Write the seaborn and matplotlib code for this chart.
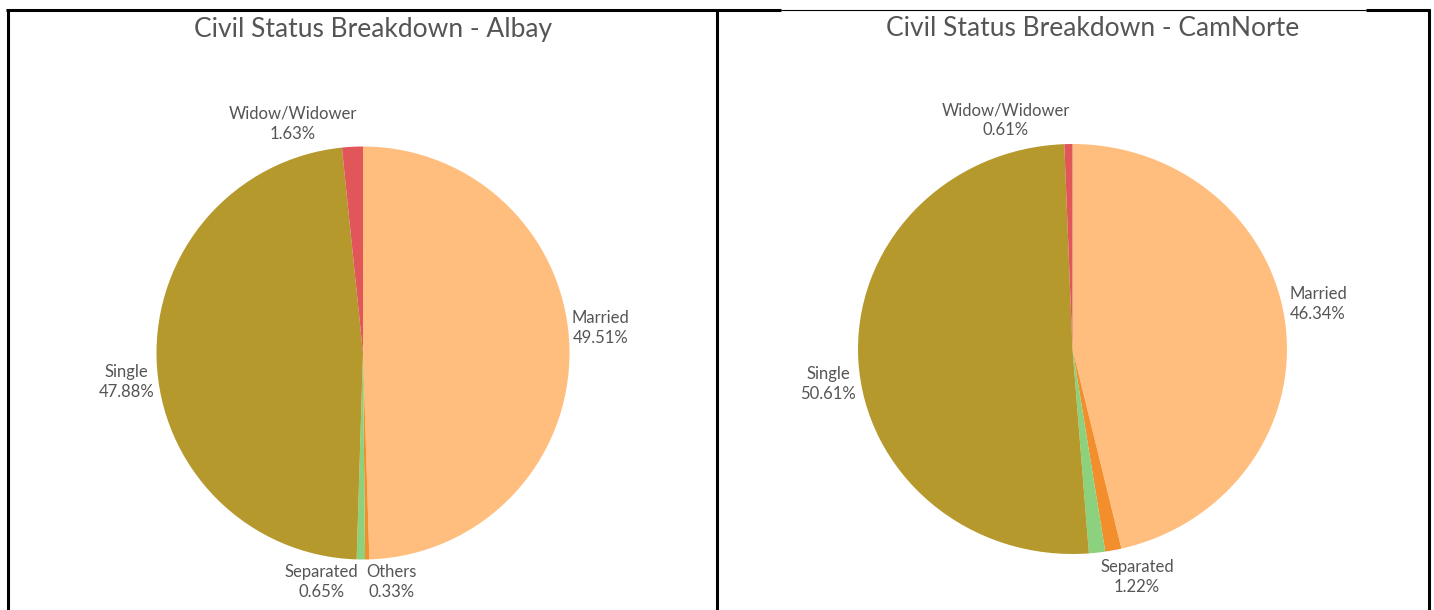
import matplotlib
matplotlib.use("Agg")
import matplotlib.pyplot as plt
import seaborn as sns
from matplotlib.lines import Line2D

sns.set_theme(style="white")
plt.rcParams['font.family'] = ['Lato', 'DejaVu Sans']

# ---- data ----
categories = ["Married", "Others", "Separated", "Single", "Widow/Widower"]
albay_values = [49.51, 0.33, 0.65, 47.88, 1.63]
camnorte_values = [46.34, 1.22, 1.22, 50.61, 0.61]
albay_labels = ["Married", "Others", "Separated", "Single", "Widow/Widower"]
camnorte_labels = ["Married", None, "Separated", "Single", "Widow/Widower"]
titles = ["Civil Status Breakdown - Albay", "Civil Status Breakdown - CamNorte"]

palette = dict(zip(categories, ["#FFBE7D", "#F28E2B", "#8CD17D", "#B6992D", "#E15759"]))

# ---- layout ----
W, H = 1434, 610
fig = plt.figure(figsize=(W / 100, H / 100), dpi=100)
fig.patch.set_facecolor("white")

TEXT = "#555555"

# label layout (x, y in pie radius units, ha)
label_pos_albay = {
    "Married": (1.01, 0.12, "left"),
    "Others": (0.14, -1.11, "center"),
    "Separated": (-0.20, -1.11, "center"),
    "Single": (-1.01, -0.14, "right"),
    "Widow/Widower": (-0.34, 1.11, "center"),
}
label_pos_cam = {
    "Married": (1.01, 0.22, "left"),
    "Separated": (0.30, -1.11, "center"),
    "Single": (-1.01, -0.17, "right"),
    "Widow/Widower": (-0.31, 1.115, "center"),
}

panels = [
    (albay_values, albay_labels, label_pos_albay, (363, 353), (206.5, 206.5), titles[0], (373, 29)),
    (camnorte_values, camnorte_labels, label_pos_cam, (1072.5, 349), (214.5, 205.0), titles[1], (1093, 28)),
]

L = 1.6
for values, labels, lpos, (cx, cy), (RX, RY), title, (tx, ty) in panels:
    ax = fig.add_axes([(cx - L * RX) / W, (H - cy - L * RY) / H, 2 * L * RX / W, 2 * L * RY / H])
    ax.pie(values, colors=[palette[c] for c in categories], startangle=90,
           counterclock=False, radius=1.0, wedgeprops=dict(linewidth=0))
    ax.set_aspect("auto")
    ax.set_xlim(-L, L)
    ax.set_ylim(-L, L)
    ax.axis("off")
    for cat, lab, v in zip(categories, labels, values):
        if lab is None:
            continue
        x, y, ha = lpos[cat]
        ax.text(x, y, f"{lab}\n{v:.2f}%", ha=ha, va="center", fontsize=12,
                color=TEXT, linespacing=1.3, multialignment="center", clip_on=False)
    fig.text(tx / W, 1 - ty / H, title, ha="center", va="center", fontsize=19,
             color=TEXT, fontweight="normal")

# ---- panel borders ----
def px_line(x0, y0, x1, y1, lw):
    fig.add_artist(Line2D([x0 / W, x1 / W], [1 - y0 / H, 1 - y1 / H],
                          transform=fig.transFigure, color="black", linewidth=lw,
                          solid_capstyle="butt"))

thick = 2.2
px_line(6, 10, 781, 10, thick)
px_line(781, 9.5, 1366, 9.5, 0.8)
px_line(1366, 10, 1430, 10, thick)
px_line(7.5, 9, 7.5, 610, thick)
px_line(717, 9, 717, 610, thick)
px_line(1429, 9, 1429, 610, thick)

fig.savefig("out.png", dpi=100, facecolor="white")
